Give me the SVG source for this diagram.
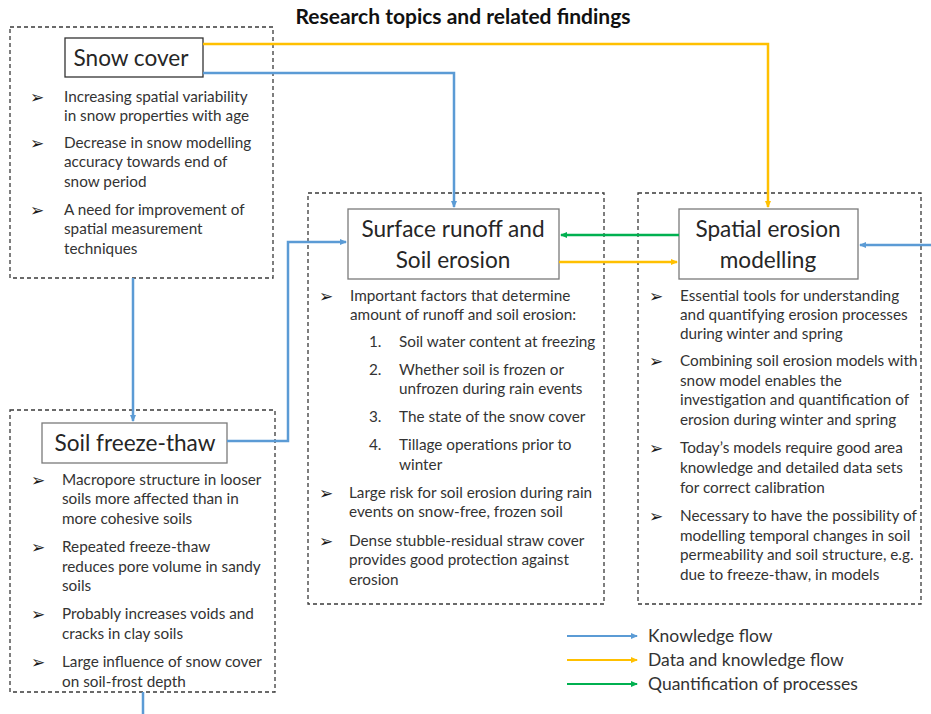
<svg xmlns="http://www.w3.org/2000/svg" width="931" height="714" viewBox="0 0 931 714">
<style>
.bg{fill:#ffffff}
.outer{fill:none;stroke:#3a3a3a;stroke-width:1.3;stroke-dasharray:4 3}
.inner{fill:#ffffff;stroke:#7a7a7a;stroke-width:1.3}
.head{font-family:Lato,"Liberation Sans",sans-serif;font-size:22.6px;fill:#262626;text-anchor:middle}
.t{font-family:Lato,"Liberation Sans",sans-serif;font-size:15.3px;fill:#333333}
.b{font-family:"DejaVu Sans",sans-serif;font-size:17px;fill:#1a1a1a}
.title{font-family:Lato,"Liberation Sans",sans-serif;font-size:21px;font-weight:bold;fill:#111111;text-anchor:middle}
.leg{font-family:Lato,"Liberation Sans",sans-serif;font-size:17.5px;fill:#333333}
.blue{fill:none;stroke:#5b9bd5;stroke-width:2.5}
.yel{fill:none;stroke:#ffc000;stroke-width:2.5}
.grn{fill:none;stroke:#00b050;stroke-width:2.5}
</style>
<defs>
<marker id="mb" markerWidth="8" markerHeight="8" refX="6" refY="4" orient="auto" markerUnits="userSpaceOnUse"><path d="M0,1 L7,4 L0,7 z" fill="#5b9bd5"/></marker>
<marker id="my" markerWidth="8" markerHeight="8" refX="6" refY="4" orient="auto" markerUnits="userSpaceOnUse"><path d="M0,1 L7,4 L0,7 z" fill="#ffc000"/></marker>
<marker id="mg" markerWidth="8" markerHeight="8" refX="6" refY="4" orient="auto" markerUnits="userSpaceOnUse"><path d="M0,1 L7,4 L0,7 z" fill="#00b050"/></marker>
</defs>
<rect class="bg" x="0" y="0" width="931" height="714"/>
<text class="title" x="463" y="24">Research topics and related findings</text>

<g id="snow-cover">
<rect class="outer" x="10" y="27" width="263" height="251"/>
<rect class="inner" x="65" y="38" width="138" height="39" style="stroke:#333"/>
<text class="head" x="131" y="66">Snow cover</text>
<text class="b" x="30" y="103">➢</text><text class="t" x="64" y="102">Increasing spatial variability</text>
<text class="t" x="64" y="121">in snow properties with age</text>
<text class="b" x="30" y="149">➢</text><text class="t" x="64" y="148">Decrease in snow modelling</text>
<text class="t" x="64" y="167">accuracy towards end of</text>
<text class="t" x="64" y="187">snow period</text>
<text class="b" x="30" y="216">➢</text><text class="t" x="64" y="215">A need for improvement of</text>
<text class="t" x="64" y="234">spatial measurement</text>
<text class="t" x="64" y="254">techniques</text>
</g>

<g id="soil-freeze-thaw">
<rect class="outer" x="10" y="410" width="265" height="282"/>
<rect class="inner" x="42" y="423" width="185" height="40"/>
<text class="head" x="135" y="451">Soil freeze-thaw</text>
<text class="b" x="31" y="486">➢</text><text class="t" x="62" y="485">Macropore structure in looser</text>
<text class="t" x="62" y="504">soils more affected than in</text>
<text class="t" x="62" y="524">more cohesive soils</text>
<text class="b" x="31" y="553">➢</text><text class="t" x="62" y="552">Repeated freeze-thaw</text>
<text class="t" x="62" y="572">reduces pore volume in sandy</text>
<text class="t" x="62" y="591">soils</text>
<text class="b" x="31" y="620">➢</text><text class="t" x="62" y="619">Probably increases voids and</text>
<text class="t" x="62" y="639">cracks in clay soils</text>
<text class="b" x="31" y="668">➢</text><text class="t" x="62" y="667">Large influence of snow cover</text>
<text class="t" x="62" y="687">on soil-frost depth</text>
</g>

<g id="surface-runoff">
<rect class="outer" x="308" y="193" width="296" height="411"/>
<rect class="inner" x="348" y="209" width="211" height="70"/>
<text class="head" x="453" y="237">Surface runoff and</text>
<text class="head" x="453" y="268">Soil erosion</text>
<text class="b" x="319" y="302">➢</text><text class="t" x="350" y="301">Important factors that determine</text>
<text class="t" x="350" y="320">amount of runoff and soil erosion:</text>
<text class="t" x="369" y="347">1.</text><text class="t" x="399" y="347">Soil water content at freezing</text>
<text class="t" x="369" y="375">2.</text><text class="t" x="399" y="375">Whether soil is frozen or</text>
<text class="t" x="399" y="394">unfrozen during rain events</text>
<text class="t" x="369" y="422">3.</text><text class="t" x="399" y="422">The state of the snow cover</text>
<text class="t" x="369" y="450">4.</text><text class="t" x="399" y="450">Tillage operations prior to</text>
<text class="t" x="399" y="470">winter</text>
<text class="b" x="319" y="499">➢</text><text class="t" x="349" y="498">Large risk for soil erosion during rain</text>
<text class="t" x="349" y="517">events on snow-free, frozen soil</text>
<text class="b" x="319" y="547">➢</text><text class="t" x="349" y="546">Dense stubble-residual straw cover</text>
<text class="t" x="349" y="565">provides good protection against</text>
<text class="t" x="349" y="585">erosion</text>
</g>

<g id="spatial-erosion">
<rect class="outer" x="638" y="193" width="283" height="411"/>
<rect class="inner" x="679" y="209" width="179" height="70"/>
<text class="head" x="768" y="237">Spatial erosion</text>
<text class="head" x="768" y="268">modelling</text>
<text class="b" x="649" y="302">➢</text><text class="t" x="680" y="301">Essential tools for understanding</text>
<text class="t" x="680" y="320">and quantifying erosion processes</text>
<text class="t" x="680" y="339">during winter and spring</text>
<text class="b" x="649" y="367">➢</text><text class="t" x="680" y="366">Combining soil erosion models with</text>
<text class="t" x="680" y="386">snow model enables the</text>
<text class="t" x="680" y="405">investigation and quantification of</text>
<text class="t" x="680" y="425">erosion during winter and spring</text>
<text class="b" x="649" y="454">➢</text><text class="t" x="680" y="453">Today’s models require good area</text>
<text class="t" x="680" y="473">knowledge and detailed data sets</text>
<text class="t" x="680" y="493">for correct calibration</text>
<text class="b" x="649" y="522">➢</text><text class="t" x="680" y="521">Necessary to have the possibility of</text>
<text class="t" x="680" y="541">modelling temporal changes in soil</text>
<text class="t" x="680" y="560">permeability and soil structure, e.g.</text>
<text class="t" x="680" y="580">due to freeze-thaw, in models</text>
</g>

<g id="connectors">
<path class="yel" d="M203,44 H768 V207" marker-end="url(#my)"/>
<path class="blue" d="M203,73 H454 V207" marker-end="url(#mb)"/>
<path class="blue" d="M133,278 V421" marker-end="url(#mb)"/>
<path class="blue" d="M227,441 H288 V242 H346" marker-end="url(#mb)"/>
<path class="blue" d="M143,692 V714"/>
<path class="grn" d="M679,235 H561" marker-end="url(#mg)"/>
<path class="yel" d="M559,262 H677" marker-end="url(#my)"/>
<path class="blue" d="M931,245 H860" marker-end="url(#mb)"/>
</g>

<g id="legend">
<path class="blue" d="M567,636 H637" marker-end="url(#mb)" style="stroke-width:2"/>
<path class="yel" d="M567,660 H637" marker-end="url(#my)" style="stroke-width:2"/>
<path class="grn" d="M567,684 H637" marker-end="url(#mg)" style="stroke-width:2"/>
<text class="leg" x="648" y="642">Knowledge flow</text>
<text class="leg" x="648" y="666">Data and knowledge flow</text>
<text class="leg" x="648" y="690">Quantification of processes</text>
</g>
</svg>
